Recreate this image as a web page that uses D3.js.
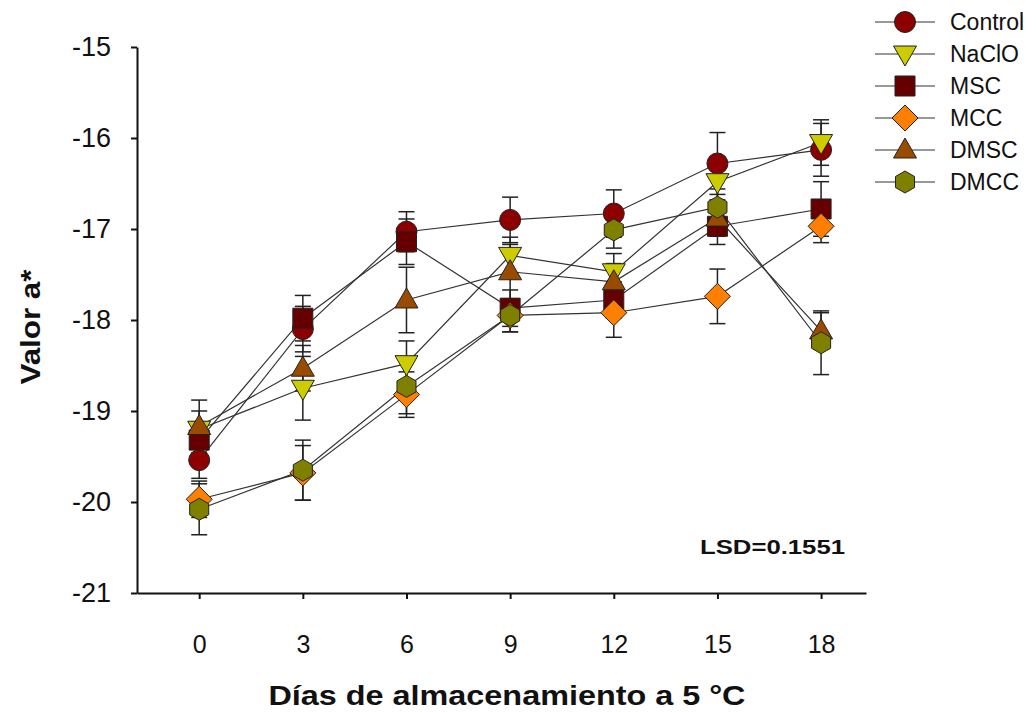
<!DOCTYPE html>
<html>
<head>
    <title>Valor a*</title>
    <script src="https://d3js.org/d3.v7.min.js"></script>
    <style>
        body { margin: 0; background: #fff; }
        text { font-family: "Liberation Sans", Arial, sans-serif; fill: #111; }
        .tick text { font-size: 25px; }
        .y-axis .tick text { font-size: 27px; }
        .axis path, .axis line { stroke: #111; stroke-width: 2; }
    </style>
</head>
<body>
<div id="chart"></div>
<script>
    const days = [0, 3, 6, 9, 12, 15, 18];
    const yTicks = [-21, -20, -19, -18, -17, -16, -15];
    const seriesNames = ['Control', 'NaClO', 'MSC', 'MCC', 'DMSC', 'DMCC'];

    const control = [-19.54, -18.1, -17.03, -16.9, -16.83, -16.28, -16.13];
    const naclo   = [-19.2, -18.75, -18.48, -17.29, -17.47, -16.48, -16.05];
    const msc     = [-19.32, -17.98, -17.14, -17.87, -17.78, -16.97, -16.78];
    const mcc     = [-19.97, -19.68, -18.82, -17.95, -17.92, -17.74, -16.97];
    const dmsc    = [-19.17, -18.53, -17.78, -17.47, -17.58, -16.88, -18.12];
    const dmcc    = [-20.08, -19.65, -18.73, -17.95, -17.01, -16.76, -18.25];

    const errControl = [0.2, 0.25, 0.22, 0.25, 0.26, 0.34, 0.29];
    const errNaclo   = [0.2, 0.35, 0.25, 0.2, 0.2, 0.25, 0.25];
    const errMsc     = [0.2, 0.25, 0.25, 0.2, 0.2, 0.2, 0.3];
    const errMcc     = [0.2, 0.3, 0.25, 0.18, 0.27, 0.3, 0.18];
    const errDmsc    = [0.29, 0.25, 0.36, 0.3, 0.2, 0.2, 0.2];
    const errDmcc    = [0.28, 0.33, 0.3, 0.18, 0.2, 0.2, 0.35];

    const colors = ['#8c0000', '#cccc00', '#660000', '#ff8000', '#994c00', '#808000'];
    const shapes = ['circle', 'triDown', 'square', 'diamond', 'triUp', 'hexagon'];

    const values = [control, naclo, msc, mcc, dmsc, dmcc];
    const errors = [errControl, errNaclo, errMsc, errMcc, errDmsc, errDmcc];

    const series = seriesNames.map((name, i) => ({
        name: name,
        color: colors[i],
        shape: shapes[i],
        points: days.map((d, j) => ({ day: d, value: values[i][j], err: errors[i][j] }))
    }));

    const width = 1036;
    const height = 713;

    const svg = d3.select('#chart')
        .append('svg')
        .attr('width', width)
        .attr('height', height);

    const xScale = d3.scaleLinear()
        .domain([-1.8, 19.3])
        .range([137, 866]);

    const yScale = d3.scaleLinear()
        .domain([-21, -15])
        .range([593, 47]);

    // axes
    svg.append('g')
        .attr('class', 'axis')
        .attr('transform', 'translate(0,593)')
        .call(d3.axisBottom(xScale).tickValues(days).tickFormat(d => String(d))
            .tickSize(6).tickSizeOuter(0).tickPadding(36));

    svg.append('g')
        .attr('class', 'axis y-axis')
        .attr('transform', 'translate(137,0)')
        .call(d3.axisLeft(yScale).tickValues(yTicks).tickFormat(d => String(d))
            .tickSize(6).tickSizeOuter(0).tickPadding(20));

    function shapePath(shape) {
        const p = d3.path();
        if (shape === 'circle') {
            p.arc(0, 0, 10.5, 0, 2 * Math.PI);
        } else if (shape === 'square') {
            p.rect(-10, -10, 20, 20);
        } else if (shape === 'diamond') {
            p.moveTo(0, -13); p.lineTo(13, 0); p.lineTo(0, 13); p.lineTo(-13, 0); p.closePath();
        } else if (shape === 'triUp') {
            p.moveTo(0, -12); p.lineTo(11.5, 8); p.lineTo(-11.5, 8); p.closePath();
        } else if (shape === 'triDown') {
            p.moveTo(0, 12); p.lineTo(11.5, -8); p.lineTo(-11.5, -8); p.closePath();
        } else if (shape === 'hexagon') {
            for (let k = 0; k < 6; k++) {
                const a = Math.PI / 2 + k * Math.PI / 3;
                const px = 11 * Math.cos(a), py = 11 * Math.sin(a);
                if (k === 0) p.moveTo(px, py); else p.lineTo(px, py);
            }
            p.closePath();
        }
        return p.toString();
    }

    const line = d3.line()
        .x(d => xScale(d.day))
        .y(d => yScale(d.value));

    // lines
    svg.append('g')
        .selectAll('path')
        .data(series)
        .join('path')
        .attr('d', d => line(d.points))
        .attr('fill', 'none')
        .attr('stroke', '#333')
        .attr('stroke-width', 1.2);

    // error bars
    const errG = svg.append('g');
    series.forEach(s => {
        const g = errG.append('g');
        g.selectAll('line.v')
            .data(s.points)
            .join('line')
            .attr('x1', d => xScale(d.day))
            .attr('x2', d => xScale(d.day))
            .attr('y1', d => yScale(d.value + d.err))
            .attr('y2', d => yScale(d.value - d.err))
            .attr('stroke', '#222')
            .attr('stroke-width', 1.5);
        [1, -1].forEach(sign => {
            g.append('g')
                .selectAll('line')
                .data(s.points)
                .join('line')
                .attr('x1', d => xScale(d.day) - 8)
                .attr('x2', d => xScale(d.day) + 8)
                .attr('y1', d => yScale(d.value + sign * d.err))
                .attr('y2', d => yScale(d.value + sign * d.err))
                .attr('stroke', '#222')
                .attr('stroke-width', 1.5);
        });
    });

    // markers
    series.forEach(s => {
        svg.append('g')
            .selectAll('path')
            .data(s.points)
            .join('path')
            .attr('d', shapePath(s.shape))
            .attr('transform', d => `translate(${xScale(d.day)},${yScale(d.value)})`)
            .attr('fill', s.color)
            .attr('stroke', '#222')
            .attr('stroke-width', 1);
    });

    // legend
    const legend = svg.append('g');
    series.forEach((s, i) => {
        const y = 22 + i * 32;
        legend.append('line')
            .attr('x1', 875).attr('x2', 935)
            .attr('y1', y).attr('y2', y)
            .attr('stroke', '#333').attr('stroke-width', 1.2);
        legend.append('path')
            .attr('d', shapePath(s.shape))
            .attr('transform', `translate(905,${y})`)
            .attr('fill', s.color)
            .attr('stroke', '#222')
            .attr('stroke-width', 1);
        legend.append('text')
            .attr('x', 950).attr('y', y)
            .attr('dy', '0.36em')
            .attr('font-size', 23)
            .text(s.name);
    });

    // labels
    svg.append('text')
        .attr('transform', 'translate(40,327) rotate(-90)')
        .attr('text-anchor', 'middle')
        .attr('font-size', 28)
        .attr('font-weight', 'bold')
        .attr('textLength', 115)
        .attr('lengthAdjust', 'spacingAndGlyphs')
        .text('Valor a*');

    svg.append('text')
        .attr('x', 507).attr('y', 705)
        .attr('text-anchor', 'middle')
        .attr('font-size', 28)
        .attr('font-weight', 'bold')
        .attr('textLength', 477)
        .attr('lengthAdjust', 'spacingAndGlyphs')
        .text('Días de almacenamiento a 5 °C');

    svg.append('text')
        .attr('x', 700).attr('y', 554)
        .attr('font-size', 20)
        .attr('font-weight', 'bold')
        .attr('textLength', 145)
        .attr('lengthAdjust', 'spacingAndGlyphs')
        .text('LSD=0.1551');
</script>
</body>
</html>
